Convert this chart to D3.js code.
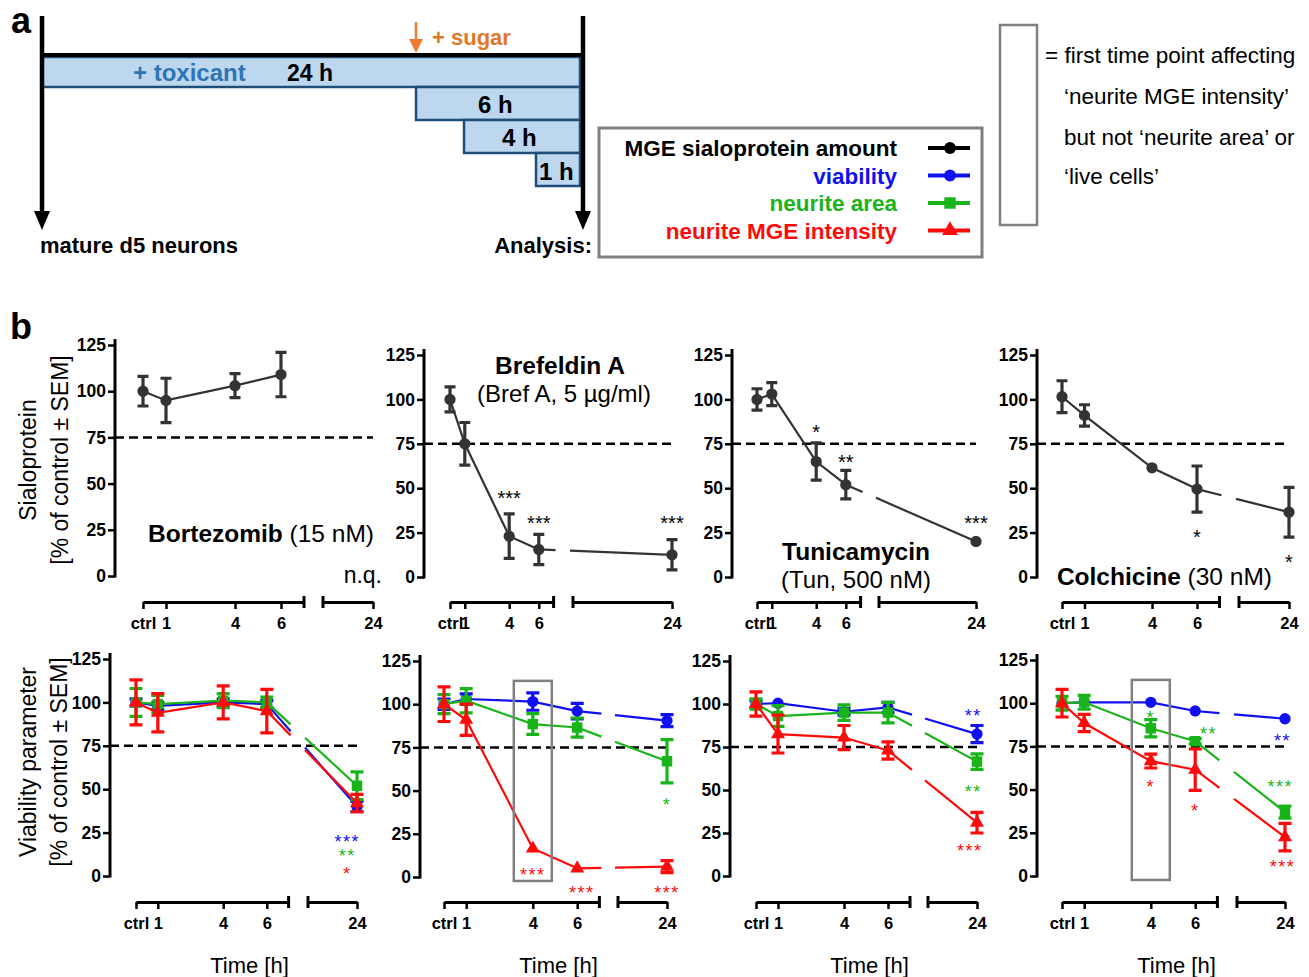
<!DOCTYPE html>
<meta charset="utf-8">
<head>
<style>
 body { margin: 0; background: #fff; }
 svg text { font-family: "Liberation Sans", Arial, sans-serif; }
 .b { font-weight: bold; }
</style>
</head>
<body>
<div id="chart"></div>
<script src="https://d3js.org/d3.v7.min.js"></script>
<script>
// time points (ctrl = 0 h)
const hours = [0, 1, 4, 6, 24];
const hourLabels = ["ctrl", "1", "4", "6", "24"];
const drugs = ["Bortezomib", "Brefeldin A", "Tunicamycin", "Colchicine"];

// top row: MGE sialoprotein amount (null = n.q.)
const sialoMean = [[100, 95, 103, 109, null], [100, 75, 23, 15.5, 12.5], [100, 103, 65, 52, 20], [101.5, 91, 61.5, 49.5, 36.5]];
const sialoSem  = [[8, 12, 6.5, 12, null], [7, 12, 12.5, 8.5, 8.5], [6, 6.5, 10.5, 8, 0], [9, 6, 0, 13, 14]];

// bottom row: viability, neurite area, neurite MGE intensity
const viabMean = [[100, 98, 100, 99, 40], [100, 103, 101.5, 96, 90.5], [100, 100.5, 95.5, 98, 82.5], [100, 100.5, 100.5, 95.5, 91]];
const viabSem  = [[2, 2, 2, 2, 3], [3, 3, 5, 4.5, 3.5], [2, 0, 2, 3, 5], [0, 0, 0, 0, 0]];
const areaMean = [[100, 99, 101, 100, 52], [100, 102, 88.5, 86.5, 67], [100, 93, 95, 95, 66.5], [100, 100.5, 85.5, 78, 37]];
const areaSem  = [[8, 5, 4, 3, 8], [5.5, 7, 6, 5.5, 12.5], [3, 6, 4.5, 6, 4.5], [4, 4, 5, 1.5, 3.5]];
const mgeMean  = [[100, 94, 100, 95, 42], [100, 91, 16.5, 5, 6], [100, 82.5, 80.5, 73, 31], [100, 88.5, 66.5, 61.5, 22.5]];
const mgeSem   = [[13, 11, 9.5, 12.5, 5], [10, 9, 0, 0, 3.5], [7, 11, 7, 5, 6], [8, 5, 4, 12, 8]];

// significance marks: [hour, label, value at which the mark sits]
const sialoStars = [[], [[4, "***", 47], [6, "***", 33], [24, "***", 33]], [[4, "*", 84], [6, "**", 67.5], [24, "***", 33]], [[6, "*", 25], [24, "*", 11]]];
const viabStars = [[[23.6, "***", 22]], [], [[23.85, "**", 95.5]], [[23.9, "**", 80.5]]];
const areaStars = [[[23.6, "**", 14]], [[24, "*", 44]], [[23.85, "**", 51.5]], [[4, "*", 94], [6.6, "**", 84.5], [23.8, "***", 54]]];
const mgeStars  = [[[23.6, "*", 3.5]], [[4, "***", 3.5], [6.2, "***", -6.5], [24, "***", -6.5]], [[23.7, "***", 17]], [[4, "*", 54], [6, "*", 40], [23.9, "***", 8]]];

// first time point affecting neurite MGE intensity only
const firstHit = [null, 4, null, 4];

const yTicks = [0, 25, 50, 75, 100, 125];
const threshold = 75;

const legendLabels = ["MGE sialoprotein amount", "viability", "neurite area", "neurite MGE intensity"];
const colDark = "#333333", colBlue = "#1010f0", colGreen = "#19b419", colRed = "#ff0a0a";

const svg = d3.select("#chart").append("svg")
    .attr("width", 1309).attr("height", 977)
    .attr("viewBox", [0, 0, 1309, 977]);

// ---------- panel a ----------
const a = svg.append("g");
a.append("text").attr("class", "b").attr("x", 11).attr("y", 33).attr("font-size", 36).text("a");

const bars = [[42, 57, 580, 87], [416, 87, 580, 120], [464, 120, 580, 153], [536, 153, 580, 186]];
a.selectAll("rect.t").data(bars).join("rect")
    .attr("x", d => d[0]).attr("y", d => d[1])
    .attr("width", d => d[2] - d[0]).attr("height", d => d[3] - d[1])
    .attr("fill", "#bdd7ee").attr("stroke", "#1f4e79").attr("stroke-width", 2.5);

a.append("line").attr("x1", 42).attr("x2", 583).attr("y1", 55).attr("y2", 55)
    .attr("stroke", "#000").attr("stroke-width", 4);
[42, 583].forEach(x => {
    a.append("line").attr("x1", x).attr("x2", x).attr("y1", 16).attr("y2", 214)
        .attr("stroke", "#000").attr("stroke-width", 4.5);
    a.append("path").attr("d", `M${x - 8},211 L${x + 8},211 L${x},230 Z`).attr("fill", "#000");
});
a.append("line").attr("x1", 416).attr("x2", 416).attr("y1", 22).attr("y2", 42)
    .attr("stroke", "#ed7d31").attr("stroke-width", 2.5);
a.append("path").attr("d", "M409,39 L423,39 L416,53 Z").attr("fill", "#ed7d31");
a.append("text").attr("class", "b").attr("x", 432).attr("y", 45).attr("font-size", 22)
    .attr("fill", "#e07828").text("+ sugar");

a.append("text").attr("class", "b").attr("x", 133).attr("y", 81).attr("font-size", 24)
    .attr("fill", "#2e75b6").text("+ toxicant");
a.append("text").attr("class", "b").attr("x", 287).attr("y", 81).attr("font-size", 23).text("24 h");
a.append("text").attr("class", "b").attr("x", 478).attr("y", 113).attr("font-size", 24).text("6 h");
a.append("text").attr("class", "b").attr("x", 502).attr("y", 146).attr("font-size", 24).text("4 h");
a.append("text").attr("class", "b").attr("x", 539).attr("y", 180).attr("font-size", 24).text("1 h");
a.append("text").attr("class", "b").attr("x", 40).attr("y", 253).attr("font-size", 22).text("mature d5 neurons");
a.append("text").attr("class", "b").attr("x", 592).attr("y", 253).attr("font-size", 22)
    .attr("text-anchor", "end").text("Analysis:");

// legend
const lg = svg.append("g");
lg.append("rect").attr("x", 599).attr("y", 128).attr("width", 383).attr("height", 129)
    .attr("fill", "none").attr("stroke", "#808080").attr("stroke-width", 3);
const legCols = ["#000", colBlue, colGreen, colRed];
const legSym = [d3.symbolCircle, d3.symbolCircle, d3.symbolSquare, d3.symbolTriangle];
legendLabels.forEach((t, i) => {
    const yy = 148 + i * 27.5;
    lg.append("text").attr("class", "b").attr("x", 897).attr("y", yy + 8)
        .attr("text-anchor", "end").attr("font-size", 22.5).attr("fill", legCols[i]).text(t);
    lg.append("line").attr("x1", 928).attr("x2", 970).attr("y1", yy).attr("y2", yy)
        .attr("stroke", legCols[i]).attr("stroke-width", 4);
    lg.append("path").attr("d", d3.symbol(legSym[i], i === 2 ? 130 : 110)())
        .attr("transform", `translate(950,${yy})`).attr("fill", legCols[i]);
});

// box note
svg.append("rect").attr("x", 1000).attr("y", 25).attr("width", 37).attr("height", 200)
    .attr("fill", "none").attr("stroke", "#808080").attr("stroke-width", 2.5);
const note = [["= first time point affecting", 1045, 63], ["‘neurite MGE intensity’", 1064, 104],
              ["but not ‘neurite area’ or", 1064, 145], ["‘live cells’", 1064, 184]];
note.forEach(n => svg.append("text").attr("x", n[1]).attr("y", n[2])
    .attr("font-size", 22.5).text(n[0]));

// ---------- panel b ----------
svg.append("text").attr("class", "b").attr("x", 10).attr("y", 339).attr("font-size", 36).text("b");

const topLayout = [
    {ax: 115, x0: 143, pph: 23, s2: [323, 373], y0: 576, y1: 345},
    {ax: 424, x0: 450, pph: 14.8, s2: [573, 672], y0: 577, y1: 355},
    {ax: 732, x0: 757, pph: 14.8, s2: [879, 976], y0: 577, y1: 355},
    {ax: 1037, x0: 1062, pph: 22.5, s2: [1239, 1289], y0: 577, y1: 355}
];
const botLayout = [
    {ax: 110, x0: 136, pph: 21.8, s2: [308, 357], y0: 876, y1: 659},
    {ax: 420, x0: 444, pph: 22.2, s2: [618, 667], y0: 877, y1: 661},
    {ax: 730, x0: 756, pph: 22, s2: [928, 977], y0: 876, y1: 661},
    {ax: 1037, x0: 1062, pph: 22.2, s2: [1237, 1285], y0: 876, y1: 660}
];

function makeX(L) {
    const s1 = d3.scaleLinear().domain([0, 7]).range([L.x0, L.x0 + 7 * L.pph]);
    const s2 = d3.scaleLinear().domain([22, 24]).range(L.s2);
    const f = h => h <= 7 ? s1(h) : s2(h);
    f.s1 = s1; f.s2 = s2;
    return f;
}

function drawFrame(L, axisY, timeLabel) {
    const g = svg.append("g");
    const x = makeX(L);
    const y = d3.scaleLinear().domain([0, 125]).range([L.y0, L.y1]);

    const ya = g.append("g").attr("transform", `translate(${L.ax},0)`)
        .call(d3.axisLeft(y).tickValues(yTicks).tickSize(7).tickSizeOuter(0).tickPadding(2));
    ya.select(".domain").remove();
    ya.append("line").attr("x1", 0).attr("x2", 0).attr("y1", L.y1 - 6).attr("y2", L.y0 + 1.5)
        .attr("stroke", "#000").attr("stroke-width", 3);
    ya.selectAll(".tick line").attr("stroke-width", 2.5);
    ya.selectAll(".tick text").attr("class", "b").attr("font-size", 17.5)
        .attr("font-family", null).attr("fill", "#000");

    // broken time axis
    const xa1 = g.append("g").attr("transform", `translate(0,${axisY})`)
        .call(d3.axisBottom(x.s1).tickValues(hours.slice(0, 4))
            .tickFormat((d, i) => hourLabels[i]).tickSize(7).tickSizeOuter(0).tickPadding(8));
    const xa2 = g.append("g").attr("transform", `translate(0,${axisY})`)
        .call(d3.axisBottom(x.s2).tickValues([24]).tickFormat(() => hourLabels[4])
            .tickSize(7).tickSizeOuter(0).tickPadding(8));
    [xa1, xa2].forEach(ax => {
        ax.select(".domain").attr("stroke-width", 3);
        ax.selectAll(".tick line").attr("stroke-width", 2.5);
        ax.selectAll(".tick text").attr("class", "b").attr("font-size", 16.5)
            .attr("font-family", null).attr("fill", "#000");
    });
    [x.s1.range()[1], L.s2[0]].forEach(cx => g.append("line")
        .attr("x1", cx).attr("x2", cx).attr("y1", axisY - 6).attr("y2", axisY + 6)
        .attr("stroke", "#000").attr("stroke-width", 3));

    // 75 % threshold
    g.append("line").attr("x1", L.ax).attr("x2", L.s2[1]).attr("y1", y(threshold)).attr("y2", y(threshold))
        .attr("stroke", "#000").attr("stroke-width", 2.5).attr("stroke-dasharray", "9,5");

    if (timeLabel) g.append("text").attr("x", (x(0) + L.s2[1]) / 2 + 3).attr("y", 973)
        .attr("text-anchor", "middle").attr("font-size", 22).text("Time [h]");
    return {g, x, y, L};
}

function drawSeries(P, means, sems, color, sym, symSize, capW, lw) {
    const {g, x, y, L} = P;
    const pts = hours.map((h, i) => ({h, m: means[i], s: sems[i]})).filter(d => d.m !== null);
    const early = pts.filter(d => d.h <= 7);
    g.append("path").attr("d", d3.line().x(d => x(d.h)).y(d => y(d.m))(early))
        .attr("fill", "none").attr("stroke", color).attr("stroke-width", lw);
    const late = pts.find(d => d.h === 24);
    if (late) {
        const p6 = early[early.length - 1];
        const xA = x(p6.h), yA = y(p6.m), xB = x(24), yB = y(late.m);
        const at = xx => yA + (yB - yA) * (xx - xA) / (xB - xA);
        const ga = x.s1.range()[1] + 2, gb = L.s2[0] - 3;
        g.append("line").attr("x1", xA).attr("y1", yA).attr("x2", ga).attr("y2", at(ga))
            .attr("stroke", color).attr("stroke-width", lw);
        g.append("line").attr("x1", gb).attr("y1", at(gb)).attr("x2", xB).attr("y2", yB)
            .attr("stroke", color).attr("stroke-width", lw);
    }
    pts.filter(d => d.s > 0).forEach(d => {
        const cx = x(d.h), t = y(d.m + d.s), b = y(d.m - d.s);
        g.append("path").attr("d", `M${cx},${t}V${b}M${cx - capW / 2},${t}H${cx + capW / 2}M${cx - capW / 2},${b}H${cx + capW / 2}`)
            .attr("fill", "none").attr("stroke", color).attr("stroke-width", 3.2);
    });
    g.selectAll(null).data(pts).join("path")
        .attr("d", d3.symbol(sym, symSize))
        .attr("transform", d => `translate(${x(d.h)},${y(d.m)})`)
        .attr("fill", color);
}

function drawStars(P, marks, color, fs, spacing) {
    marks.forEach(([h, t, v]) => P.g.append("text")
        .attr("x", P.x(h)).attr("y", P.y(v) + 0.58 * fs)
        .attr("text-anchor", "middle").attr("font-size", fs)
        .attr("letter-spacing", spacing).attr("fill", color).text(t));
}

// y axis titles
[["Sialoprotein", 28, 460], ["[% of control ± SEM]", 60, 460],
 ["Viability parameter", 28, 762], ["[% of control ± SEM]", 59, 762]].forEach(t =>
    svg.append("text").attr("transform", `translate(${t[1] + 8},${t[2]}) rotate(-90)`)
        .attr("text-anchor", "middle").attr("font-size", 23).text(t[0]));

drugs.forEach((drug, i) => {
    const T = drawFrame(topLayout[i], 602, false);
    drawSeries(T, sialoMean[i], sialoSem[i], colDark, d3.symbolCircle, 100, 11, 2.2);
    drawStars(T, sialoStars[i], "#000", 20, 0);

    const B = drawFrame(botLayout[i], 902, true);
    drawSeries(B, viabMean[i], viabSem[i], colBlue, d3.symbolCircle, 100, 13, 2.2);
    drawSeries(B, areaMean[i], areaSem[i], colGreen, d3.symbolSquare, 110, 13, 2.2);
    drawSeries(B, mgeMean[i], mgeSem[i], colRed, d3.symbolTriangle, 85, 13, 2.2);
    drawStars(B, viabStars[i], colBlue, 18, 1.5);
    drawStars(B, areaStars[i], colGreen, 18, 1.5);
    drawStars(B, mgeStars[i], colRed, 18, 1.5);
    if (firstHit[i] !== null) {
        const cx = B.x(firstHit[i]);
        B.g.append("rect").attr("x", cx - 19).attr("y", B.y(113.5))
            .attr("width", 38).attr("height", B.y(-2.3) - B.y(113.5))
            .attr("fill", "none").attr("stroke", "#808080").attr("stroke-width", 2.5);
    }
});

// drug titles
function title(x, y, anchor, boldPart, rest) {
    const t = svg.append("text").attr("x", x).attr("y", y).attr("text-anchor", anchor).attr("font-size", 24.5);
    t.append("tspan").attr("class", "b").text(boldPart);
    if (rest) t.append("tspan").text(rest);
}
title(374, 542, "end", drugs[0], " (15 nM)");
svg.append("text").attr("x", 382).attr("y", 583).attr("text-anchor", "end").attr("font-size", 23).text("n.q.");
title(560, 374, "middle", drugs[1], null);
svg.append("text").attr("x", 564).attr("y", 402).attr("text-anchor", "middle").attr("font-size", 24).text("(Bref A, 5 µg/ml)");
title(856, 560, "middle", drugs[2], null);
svg.append("text").attr("x", 856).attr("y", 588).attr("text-anchor", "middle").attr("font-size", 24).text("(Tun, 500 nM)");
title(1272, 585, "end", drugs[3], " (30 nM)");
</script>
</body>
